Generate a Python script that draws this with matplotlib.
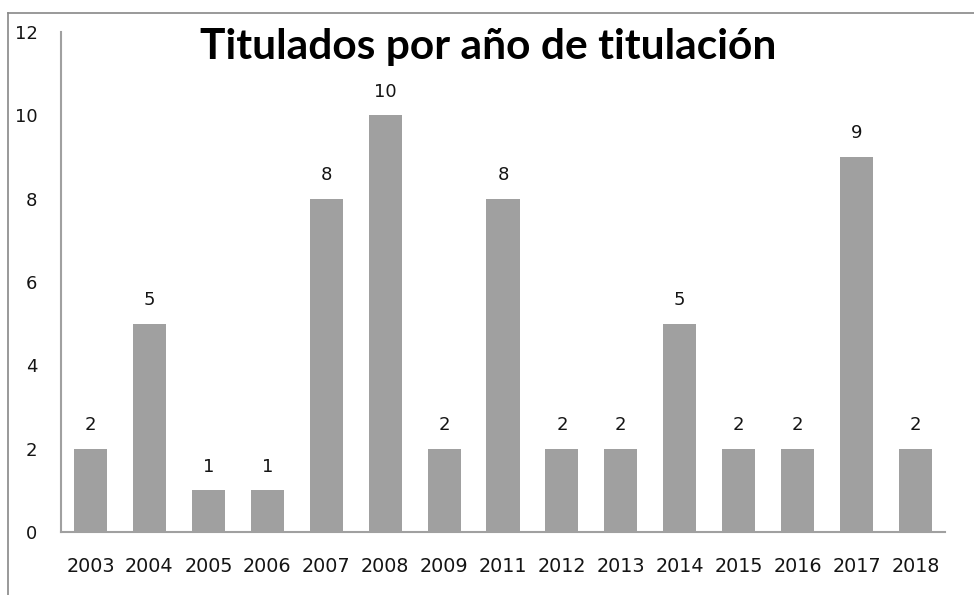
import matplotlib
matplotlib.use("Agg")
import matplotlib.pyplot as plt
from matplotlib.lines import Line2D

years = ["2003", "2004", "2005", "2006", "2007", "2008", "2009", "2011",
         "2012", "2013", "2014", "2015", "2016", "2017", "2018"]
values = [2, 5, 1, 1, 8, 10, 2, 8, 2, 2, 5, 2, 2, 9, 2]
yticks = [0, 2, 4, 6, 8, 10, 12]
title = "Titulados por año de titulación"

plt.rcParams['font.family'] = ['DejaVu Sans']

W, H = 974, 595
fig = plt.figure(figsize=(W / 100, H / 100), dpi=100)
ax = fig.add_axes([61 / W, 1 - 532 / H, (945 - 61) / W, (532 - 32) / H])

x = list(range(len(years)))
ax.bar(x, values, width=0.56, color="#a0a0a0")
for xi, v in zip(x, values):
    ax.annotate(str(v), (xi, v), xytext=(0, 10.5), textcoords="offset points",
                ha="center", va="bottom", fontsize=13, color="#141414")

ax.set_xlim(-0.5, len(years) - 0.5)
ax.set_ylim(0, 12)
ax.set_yticks(yticks)
ax.set_yticklabels([str(t) for t in yticks], fontsize=13, color="#141414")
ax.set_xticks(x)
ax.set_xticklabels(years, fontsize=13.8, color="#141414")
ax.tick_params(axis="both", length=0)
ax.tick_params(axis="y", pad=17)
ax.tick_params(axis="x", pad=18)
for s in ["top", "right"]:
    ax.spines[s].set_visible(False)
for s in ["left", "bottom"]:
    ax.spines[s].set_color("#a0a0a0")
    ax.spines[s].set_linewidth(1.5)

fig.text(488 / W, 1 - 59 / H, title, ha="center", va="baseline",
         fontsize=30.6, fontweight="bold", color="black", family=["Lato", "DejaVu Sans"])

# outer frame (top and left edges)
fig.add_artist(Line2D([8 / W, 1], [1 - 13 / H, 1 - 13 / H], color="#888888", lw=1.2))
fig.add_artist(Line2D([8 / W, 8 / W], [0, 1 - 13 / H], color="#888888", lw=1.2))

fig.savefig("out.png", dpi=100)
